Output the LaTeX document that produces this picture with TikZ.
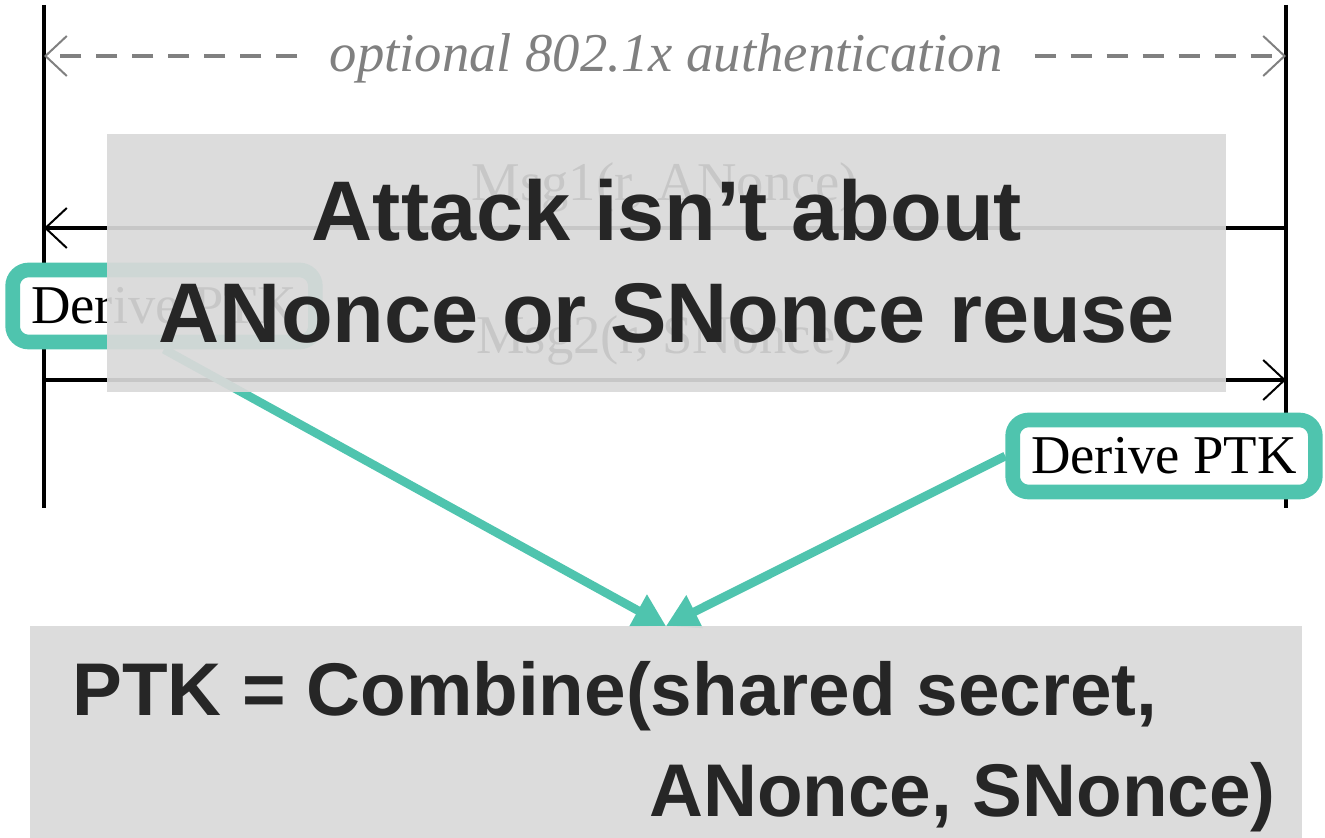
\documentclass[tikz,border=0pt]{standalone}
\usepackage{fontspec}
\setmainfont{Liberation Serif}
\newfontfamily\headsans{Liberation Sans}
\usetikzlibrary{arrows.meta}
\definecolor{teal}{HTML}{4FC4AE}
\definecolor{darktext}{HTML}{262626}
\definecolor{boxgray}{HTML}{D9D9D9}
\definecolor{authgray}{HTML}{808080}
\tikzset{
  lifeline/.style={line width=3pt, black},
  msgarrow/.style={line width=3pt, black, -{Straight Barb[length=16pt,width=30pt,line width=1.5pt]}},
  authdash/.style={line width=3pt, authgray, dash pattern=on 16pt off 11pt,
    -{Straight Barb[length=16pt,width=30pt,line width=1.5pt]}},
  serif/.style={font=\fontsize{41}{49}\selectfont, inner sep=0pt},
  derivebox/.style={draw=teal, line width=11pt, rounded corners=12pt, fill=white,
    minimum width=227pt, minimum height=54pt, inner sep=0pt, font=\fontsize{41}{49}\selectfont},
  tealarrow/.style={teal, line width=6.5pt, -{Triangle[length=24pt,width=26pt]}},
  overlay/.style={fill=boxgray, fill opacity=0.92, draw=none},
  bigtext/.style={font=\headsans\bfseries\fontsize{63.5}{76}\selectfont, text=darktext, inner sep=0pt},
  formula/.style={font=\headsans\bfseries\fontsize{56}{76}\selectfont, text=darktext, inner sep=0pt}
}
\begin{document}
\begin{tikzpicture}[x=0.75pt,y=-0.75pt]
\useasboundingbox (0,0) rectangle (1325,838);
% lifelines
\coordinate (Ltop) at (44,5);
\coordinate (Lbot) at (44,508);
\coordinate (Rtop) at (1286,5);
\coordinate (Rbot) at (1286,508);
\draw[lifeline] (Ltop) -- (Lbot);
\draw[lifeline] (Rtop) -- (Rbot);
% optional auth
\coordinate (authL) at (44,56);
\coordinate (authR) at (1286,56);
\node[serif, anchor=base, inner xsep=24pt, inner ysep=2pt, text=authgray, font=\fontsize{41}{49}\selectfont\itshape] (authlabel) at (666,72) {optional 802.1x authentication};
\draw[authdash] (authlabel.west |- authL) -- (authL);
\draw[authdash] (authlabel.east |- authR) -- (authR);
% messages
\coordinate (m1R) at (1286,228);
\coordinate (m1L) at (44,228);
\coordinate (m2L) at (44,380);
\coordinate (m2R) at (1286,380);
\draw[msgarrow] (m1R) -- (m1L);
\draw[msgarrow] (m2L) -- (m2R);
\node[serif, anchor=base] (msg1) at (665,201) {Msg1(r, ANonce)};
\node[serif, anchor=base] (msg2) at (665,353) {Msg2(r, SNonce)};
% derive boxes
\node[derivebox] (dl) at (164,306) {Derive PTK};
\node[derivebox] (dr) at (1164,456) {Derive PTK};
% teal arrows
\coordinate (tip) at (666,626);
\draw[tealarrow] (dl.south) -- (tip);
\draw[tealarrow] (dr.west) -- (tip);
% overlay boxes
\path[overlay] (107,134) rectangle (1226,392);
\node[bigtext, anchor=base] (t1) at (667,240) {Attack isn’t about};
\node[bigtext, anchor=base] (t2) at (667,342) {ANonce or SNonce reuse};
\path[overlay] (30,626) rectangle (1302,838);
\node[formula, anchor=base west] (f1) at (72,715) {PTK = Combine(shared secret,};
\node[formula, anchor=base east] (f2) at (1276,816) {ANonce, SNonce)};
\end{tikzpicture}
\end{document}
